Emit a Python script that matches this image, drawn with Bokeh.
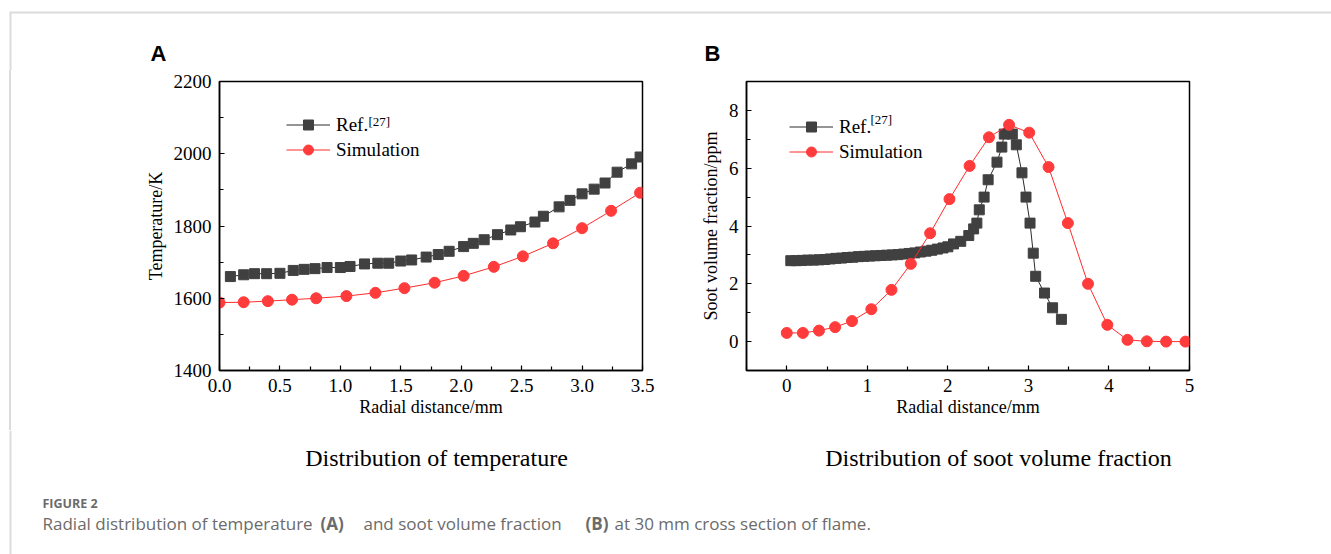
from bokeh.plotting import figure
from bokeh.models import (FixedTicker, Legend, LegendItem, Label, BoxAnnotation,
                          NumeralTickFormatter, Div)
from bokeh.layouts import column, row
from bokeh.embed import file_html
from bokeh.resources import INLINE

# ---------------- data ----------------
# Panel A: temperature
ref_T_x = [0.09, 0.20, 0.29, 0.39, 0.50, 0.61, 0.70, 0.79, 0.89, 1.00, 1.08, 1.20,
           1.31, 1.40, 1.50, 1.59, 1.71, 1.81, 1.90, 2.02, 2.10, 2.19, 2.30, 2.41,
           2.49, 2.61, 2.68, 2.81, 2.90, 3.00, 3.10, 3.19, 3.29, 3.41, 3.48]
ref_T_y = [1660, 1665, 1668, 1668, 1669, 1677, 1680, 1682, 1685, 1685, 1688, 1695,
           1697, 1697, 1703, 1706, 1714, 1721, 1730, 1743, 1752, 1762, 1776, 1789,
           1798, 1811, 1827, 1853, 1871, 1889, 1902, 1919, 1949, 1972, 1991]
sim_T_x = [0.0, 0.2, 0.4, 0.6, 0.8, 1.05, 1.29, 1.53, 1.78, 2.02, 2.27, 2.51, 2.76,
           3.0, 3.24, 3.48]
sim_T_y = [1588, 1589, 1592, 1596, 1600, 1606, 1615, 1628, 1643, 1662, 1687, 1716,
           1752, 1794, 1842, 1892]

# Panel B: soot volume fraction
ref_S_x = [0.05, 0.12, 0.19, 0.26, 0.33, 0.40, 0.47, 0.54, 0.61, 0.68, 0.75, 0.82,
           0.89, 0.96, 1.03, 1.10, 1.17, 1.24, 1.31, 1.38, 1.45, 1.52, 1.59, 1.66,
           1.73, 1.80, 1.87, 1.94, 2.00, 2.07, 2.16, 2.26, 2.32, 2.36, 2.39, 2.45,
           2.50, 2.61, 2.67, 2.70, 2.75, 2.80, 2.85, 2.92, 2.97, 3.02, 3.06, 3.09,
           3.20, 3.30, 3.41]
ref_S_y = [2.80, 2.80, 2.81, 2.82, 2.82, 2.83, 2.84, 2.86, 2.88, 2.89, 2.91, 2.92,
           2.94, 2.95, 2.96, 2.97, 2.98, 2.99, 3.00, 3.01, 3.03, 3.05, 3.07, 3.10,
           3.13, 3.16, 3.20, 3.24, 3.28, 3.38, 3.47, 3.67, 3.90, 4.10, 4.56, 5.00,
           5.60, 6.21, 6.73, 7.18, 7.20, 7.18, 6.81, 5.84, 5.00, 4.10, 3.06, 2.26,
           1.68, 1.17, 0.77]
sim_S_x = [0.0, 0.2, 0.4, 0.6, 0.81, 1.05, 1.30, 1.54, 1.78, 2.02, 2.27, 2.51, 2.76,
           3.01, 3.25, 3.49, 3.74, 3.98, 4.23, 4.47, 4.71, 4.95]
sim_S_y = [0.30, 0.30, 0.38, 0.50, 0.71, 1.12, 1.79, 2.69, 3.75, 4.93, 6.08, 7.07,
           7.50, 7.23, 6.04, 4.10, 2.00, 0.58, 0.06, 0.01, 0.0, 0.0]

A_xticks = [0.0, 0.5, 1.0, 1.5, 2.0, 2.5, 3.0, 3.5]
A_xminor = [0.25, 0.75, 1.25, 1.75, 2.25, 2.75, 3.25]
A_yticks = [1400, 1600, 1800, 2000, 2200]
A_yminor = [1500, 1700, 1900, 2100]
B_xticks = [0, 1, 2, 3, 4, 5]
B_xminor = [-0.5, 0.5, 1.5, 2.5, 3.5, 4.5]
B_yticks = [0, 2, 4, 6, 8]
B_yminor = [-1, 1, 3, 5, 7, 9]

REF_COLOR = "#404040"
REF_LINE = "#2b2b2b"
SIM_COLOR = "#FF3B3B"
SIM_LINE = "#FF2B2B"
SERIF = "Liberation Serif"
BORDER = "#DCDCDC"


def screen_box(left, right, top, bottom):
    return BoxAnnotation(left=left, right=right, top=top, bottom=bottom,
                         left_units="screen", right_units="screen",
                         top_units="screen", bottom_units="screen",
                         fill_color=BORDER, fill_alpha=1, line_alpha=0)


def blank_fig(w, h):
    p = figure(width=w, height=h, x_range=(0, w), y_range=(0, h),
               output_backend="svg", toolbar_location=None,
               x_axis_location=None, y_axis_location=None, min_border=0)
    p.xgrid.visible = False
    p.ygrid.visible = False
    p.outline_line_color = None
    return p


def style_axes(p, xt, xm, yt, ym):
    for ax, t, m in ((p.xaxis[0], xt, xm), (p.yaxis[0], yt, ym)):
        ax.ticker = FixedTicker(ticks=t, minor_ticks=m)
        ax.major_tick_in = 5
        ax.major_tick_out = 0
        ax.minor_tick_in = 4
        ax.minor_tick_out = 0
        ax.axis_line_width = 1.5
        ax.major_tick_line_width = 1.2
        ax.minor_tick_line_width = 1.2
        ax.major_label_text_font = SERIF
        ax.major_label_text_font_size = "19px"
        ax.major_label_text_color = "black"
        ax.axis_label_text_font = SERIF
        ax.axis_label_text_font_size = "18px"
        ax.axis_label_text_font_style = "normal"
        ax.axis_label_text_color = "black"
        ax.major_label_standoff = 8
    p.xaxis[0].axis_label_standoff = 2
    p.yaxis[0].axis_label_standoff = 5
    p.xgrid.visible = False
    p.ygrid.visible = False
    p.outline_line_color = "black"
    p.outline_line_width = 1.5
    p.outline_line_alpha = 1.0


def add_series(p, rx, ry, sx, sy, loc, sup_xy):
    l1 = p.line(rx, ry, line_color=REF_LINE, line_width=1)
    s1 = p.scatter(rx, ry, marker="square", size=10, fill_color=REF_COLOR,
                   line_color=REF_COLOR)
    l2 = p.line(sx, sy, line_color=SIM_LINE, line_width=1)
    s2 = p.scatter(sx, sy, marker="circle", size=11, fill_color=SIM_COLOR,
                   line_color=SIM_COLOR)
    leg = Legend(items=[LegendItem(label="Ref.", renderers=[l1, s1]),
                        LegendItem(label="Simulation", renderers=[l2, s2])],
                 location=loc, padding=0, margin=0, spacing=0,
                 glyph_width=44, glyph_height=25, label_height=25,
                 label_standoff=6, border_line_color=None,
                 background_fill_alpha=0,
                 label_text_font=SERIF, label_text_font_size="19px",
                 label_text_color="black")
    p.add_layout(leg)
    p.add_layout(Label(x=sup_xy[0], y=sup_xy[1], x_units="screen", y_units="screen",
                       text="[27]", text_font=SERIF, text_font_size="13px",
                       text_baseline="top", text_color="black"))


# ---------------- Header strip (panel letters, border) ----------------
pH = blank_fig(1331, 70)
pH.add_layout(screen_box(9, 1331, 59, 57))
pH.add_layout(screen_box(9, 11, 58, 0))
letter = dict(x_units="screen", y_units="screen", text_font="Liberation Sans",
              text_font_style="bold", text_font_size="22px", text_color="black")
pH.add_layout(Label(x=150, y=5, text="A", **letter))
pH.add_layout(Label(x=704, y=5, text="B", **letter))

# ---------------- Left border strip (plain html, no plot frame) ----------------
pL = Div(text='<div style="position:absolute;left:9px;top:0px;width:2px;'
              'height:360px;background:#DCDCDC;"></div>',
         width=12, height=360, margin=0, styles={"padding": "0px"})

# ---------------- Panel A ----------------
pA = figure(width=668, height=360, x_range=(0, 3.5), y_range=(1400, 2200),
            output_backend="svg", toolbar_location=None,
            min_border_left=207, min_border_right=38, min_border_top=11,
            min_border_bottom=60,
            x_axis_label="Radial distance/mm", y_axis_label="Temperature/K")
style_axes(pA, A_xticks, A_xminor, A_yticks, A_yminor)
pA.xaxis[0].formatter = NumeralTickFormatter(format="0.0")
pA.yaxis[0].formatter = NumeralTickFormatter(format="0")
add_series(pA, ref_T_x, ref_T_y, sim_T_x, sim_T_y, (67, 208), (149, 257))

# ---------------- Panel B ----------------
pB = figure(width=651, height=360, x_range=(-0.5, 5.0), y_range=(-1, 9),
            output_backend="svg", toolbar_location=None,
            min_border_left=66, min_border_right=142, min_border_top=11,
            min_border_bottom=60,
            x_axis_label="Radial distance/mm", y_axis_label="Soot volume fraction/ppm")
style_axes(pB, B_xticks, B_xminor, B_yticks, B_yminor)
add_series(pB, ref_S_x, ref_S_y, sim_S_x, sim_S_y, (43, 206), (124, 259))

# ---------------- Captions ----------------
pC = blank_fig(1331, 124)
pC.add_layout(screen_box(9, 11, 124, 0))

sub_font = dict(text_font=SERIF, text_font_size="24px", text_color="black",
                text_align="center", text_baseline="middle",
                x_units="screen", y_units="screen")
pC.add_layout(Label(x=436, y=97, text="Distribution of temperature", **sub_font))
pC.add_layout(Label(x=998, y=97, text="Distribution of soot volume fraction", **sub_font))

cap_font = dict(text_font="Open Sans", text_font_size="17px", text_color="#6b6b6b",
                text_baseline="middle", x_units="screen", y_units="screen")
pC.add_layout(Label(x=42, y=51, text="FIGURE 2", text_font_style="bold",
                    **dict(cap_font, text_font_size="12.5px")))
segments = [(42, "Radial distribution of temperature", "normal"),
            (320, "(A)", "bold"),
            (363, "and soot volume fraction", "normal"),
            (585, "(B)", "bold"),
            (614, "at 30 mm cross section of flame.", "normal")]
for sx_, txt, wt in segments:
    pC.add_layout(Label(x=sx_, y=31, text=txt, text_font_style=wt, **cap_font))

layout = column(pH, row(pL, pA, pB), pC)
open("out.html", "w").write(file_html(layout, INLINE))
